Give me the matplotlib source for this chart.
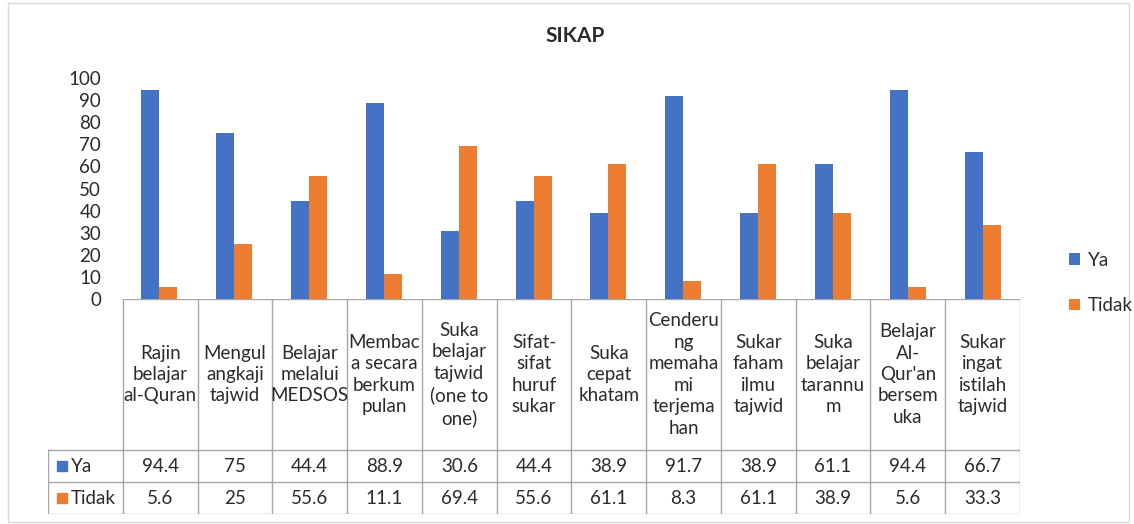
import matplotlib.pyplot as plt
from matplotlib.patches import Rectangle
import numpy as np

plt.rcParams['font.family'] = ['Lato', 'DejaVu Sans']

categories = [
    "Rajin\nbelajar\nal-Quran", "Mengul\nangkaji\ntajwid", "Belajar\nmelalui\nMEDSOS",
    "Membac\na secara\nberkum\npulan", "Suka\nbelajar\ntajwid\n(one to\none)",
    "Sifat-\nsifat\nhuruf\nsukar", "Suka\ncepat\nkhatam",
    "Cenderu\nng\nmemaha\nmi\nterjema\nhan", "Sukar\nfaham\nilmu\ntajwid",
    "Suka\nbelajar\ntarannu\nm", "Belajar\nAl-\nQur'an\nbersem\nuka",
    "Sukar\ningat\nistilah\ntajwid",
]
ya = [94.4, 75, 44.4, 88.9, 30.6, 44.4, 38.9, 91.7, 38.9, 61.1, 94.4, 66.7]
tidak = [5.6, 25, 55.6, 11.1, 69.4, 55.6, 61.1, 8.3, 61.1, 38.9, 5.6, 33.3]
series = ["Ya", "Tidak"]
colors = ["#4472C4", "#ED7D31"]
yticks = [0, 10, 20, 30, 40, 50, 60, 70, 80, 90, 100]

W, H = 1134, 524
fig = plt.figure(figsize=(W / 100, H / 100), dpi=100)
fig.patches.append(Rectangle((8 / W, 2 / H), 1121 / W, 519 / H, transform=fig.transFigure,
                             fill=False, edgecolor="#d9d9d9", linewidth=1))

text_c = "#2b2b2b"
fs = 13.5

# bar chart
ax = fig.add_axes([122 / W, 1 - 299 / H, 898 / W, 221 / H])
x = np.arange(len(categories))
bw = 0.24
ax.bar(x - bw / 2, ya, bw, color=colors[0], label=series[0])
ax.bar(x + bw / 2, tidak, bw, color=colors[1], label=series[1])
ax.set_xlim(-0.5, len(categories) - 0.5)
ax.set_ylim(0, 100)
ax.set_yticks(yticks)
ax.set_xticks([])
for s in ax.spines.values():
    s.set_visible(False)
ax.tick_params(axis='y', length=0, pad=15, labelsize=fs, labelcolor=text_c)
fig.text(575 / W, 1 - 36 / H, "SIKAP", ha='center', va='center', fontsize=15,
         fontweight='bold', color=text_c)

# data table
tb = fig.add_axes([48 / W, 1 - 514 / H, 972 / W, 215 / H])
tb.set_xlim(-1.5, len(categories) - 0.5)
tb.set_ylim(215, 0)
tb.axis('off')
lc = "#a6a6a6"
hdr, rh = 151, 32
# horizontal lines
tb.plot([-0.5, len(categories) - 0.5], [0, 0], color=lc, lw=1)
for yy in [hdr, hdr + rh, hdr + 2 * rh]:
    tb.plot([-1.5, len(categories) - 0.5], [yy, yy], color=lc, lw=1)
# vertical lines
for xx in np.arange(-0.5, len(categories)):
    tb.plot([xx, xx], [0, hdr + 2 * rh], color=lc, lw=1)
tb.plot([-1.5, -1.5], [hdr, hdr + 2 * rh], color=lc, lw=1)

for i, c in enumerate(categories):
    tb.text(i, hdr / 2, c, ha='center', va='center', fontsize=fs, color=text_c,
            linespacing=1.32)
    tb.text(i, hdr + rh / 2, f"{ya[i]:g}", ha='center', va='center', fontsize=fs, color=text_c)
    tb.text(i, hdr + rh * 1.5, f"{tidak[i]:g}", ha='center', va='center', fontsize=fs, color=text_c)

for j, (name, col) in enumerate(zip(series, colors)):
    yc = hdr + rh * (j + 0.5)
    tb.plot([-1.31], [yc], marker='s', markersize=6.5, color=col, linestyle='none')
    tb.text(-1.19, yc, name, ha='left', va='center', fontsize=fs, color=text_c)

# legend
fig.legend(handles=ax.containers, labels=series, loc='center left',
           bbox_to_anchor=(1052 / W, 1 - 283 / H), frameon=False, fontsize=fs,
           labelcolor=text_c, handlelength=0.6, handleheight=0.6, handletextpad=0.4,
           labelspacing=1.5)

fig.savefig("out.png", dpi=100)
